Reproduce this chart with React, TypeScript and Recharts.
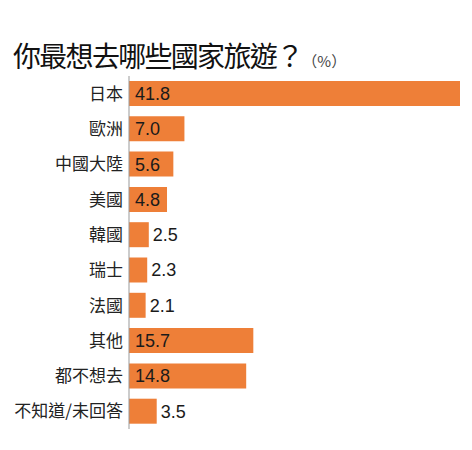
import React from "react";
import { BarChart, Bar, XAxis, YAxis, LabelList } from "recharts";

const categories = ["日本", "歐洲", "中國大陸", "美國", "韓國", "瑞士", "法國", "其他", "都不想去", "不知道/未回答"];
const values = [41.8, 7.0, 5.6, 4.8, 2.5, 2.3, 2.1, 15.7, 14.8, 3.5];
const data = categories.map((name, i) => ({ name, value: values[i] }));

const ORANGE = "#EE7F38";
const CJK = "'Noto Sans CJK TC', 'Noto Sans CJK SC', sans-serif";
const NUM = "'Liberation Sans', Arial, sans-serif";

const ValueLabel = (props: any) => {
  const { x, y, width, height, value } = props;
  const inside = value >= 4;
  const tx = inside ? x + 6 : x + width + 4;
  return (
    <text
      x={tx}
      y={y + height / 2}
      dy="0.36em"
      fontSize={18}
      fontFamily={NUM}
      fill="#1a1a1a"
      textAnchor="start"
    >
      {value.toFixed(1)}
    </text>
  );
};

const CatTick = (props: any) => {
  const { x, y, payload } = props;
  return (
    <text x={x + 2} y={y} dy="0.36em" textAnchor="end" fontSize={17} fontFamily={CJK} fill="#222">
      {payload.value}
    </text>
  );
};

export default function App() {
  return (
    <div style={{ position: "absolute", left: 0, top: 0, width: 472, height: 450, background: "#fff" }}>
      <div
        style={{
          position: "absolute",
          left: 13,
          top: 38,
          fontFamily: CJK,
          fontSize: 28,
          letterSpacing: -1.7,
          lineHeight: "34px",
          color: "#111",
          whiteSpace: "nowrap",
        }}
      >
        你最想去哪些國家旅遊？
        <span style={{ fontSize: 15, color: "#444", letterSpacing: 0 }}>（%）</span>
      </div>
      <BarChart
        width={472}
        height={450}
        data={data}
        layout="vertical"
        margin={{ top: 76, right: 12, bottom: 21, left: 0 }}
        style={{ position: "absolute", left: 0, top: 0 }}
      >
        <XAxis type="number" domain={[0, 41.8]} hide />
        <YAxis
          type="category"
          dataKey="name"
          width={129}
          axisLine={{ stroke: "#999", strokeWidth: 1 }}
          tickLine={false}
          tick={<CatTick />}
          interval={0}
        />
        <Bar dataKey="value" fill={ORANGE} barSize={25} isAnimationActive={false}>
          <LabelList dataKey="value" content={<ValueLabel />} />
        </Bar>
      </BarChart>
    </div>
  );
}
